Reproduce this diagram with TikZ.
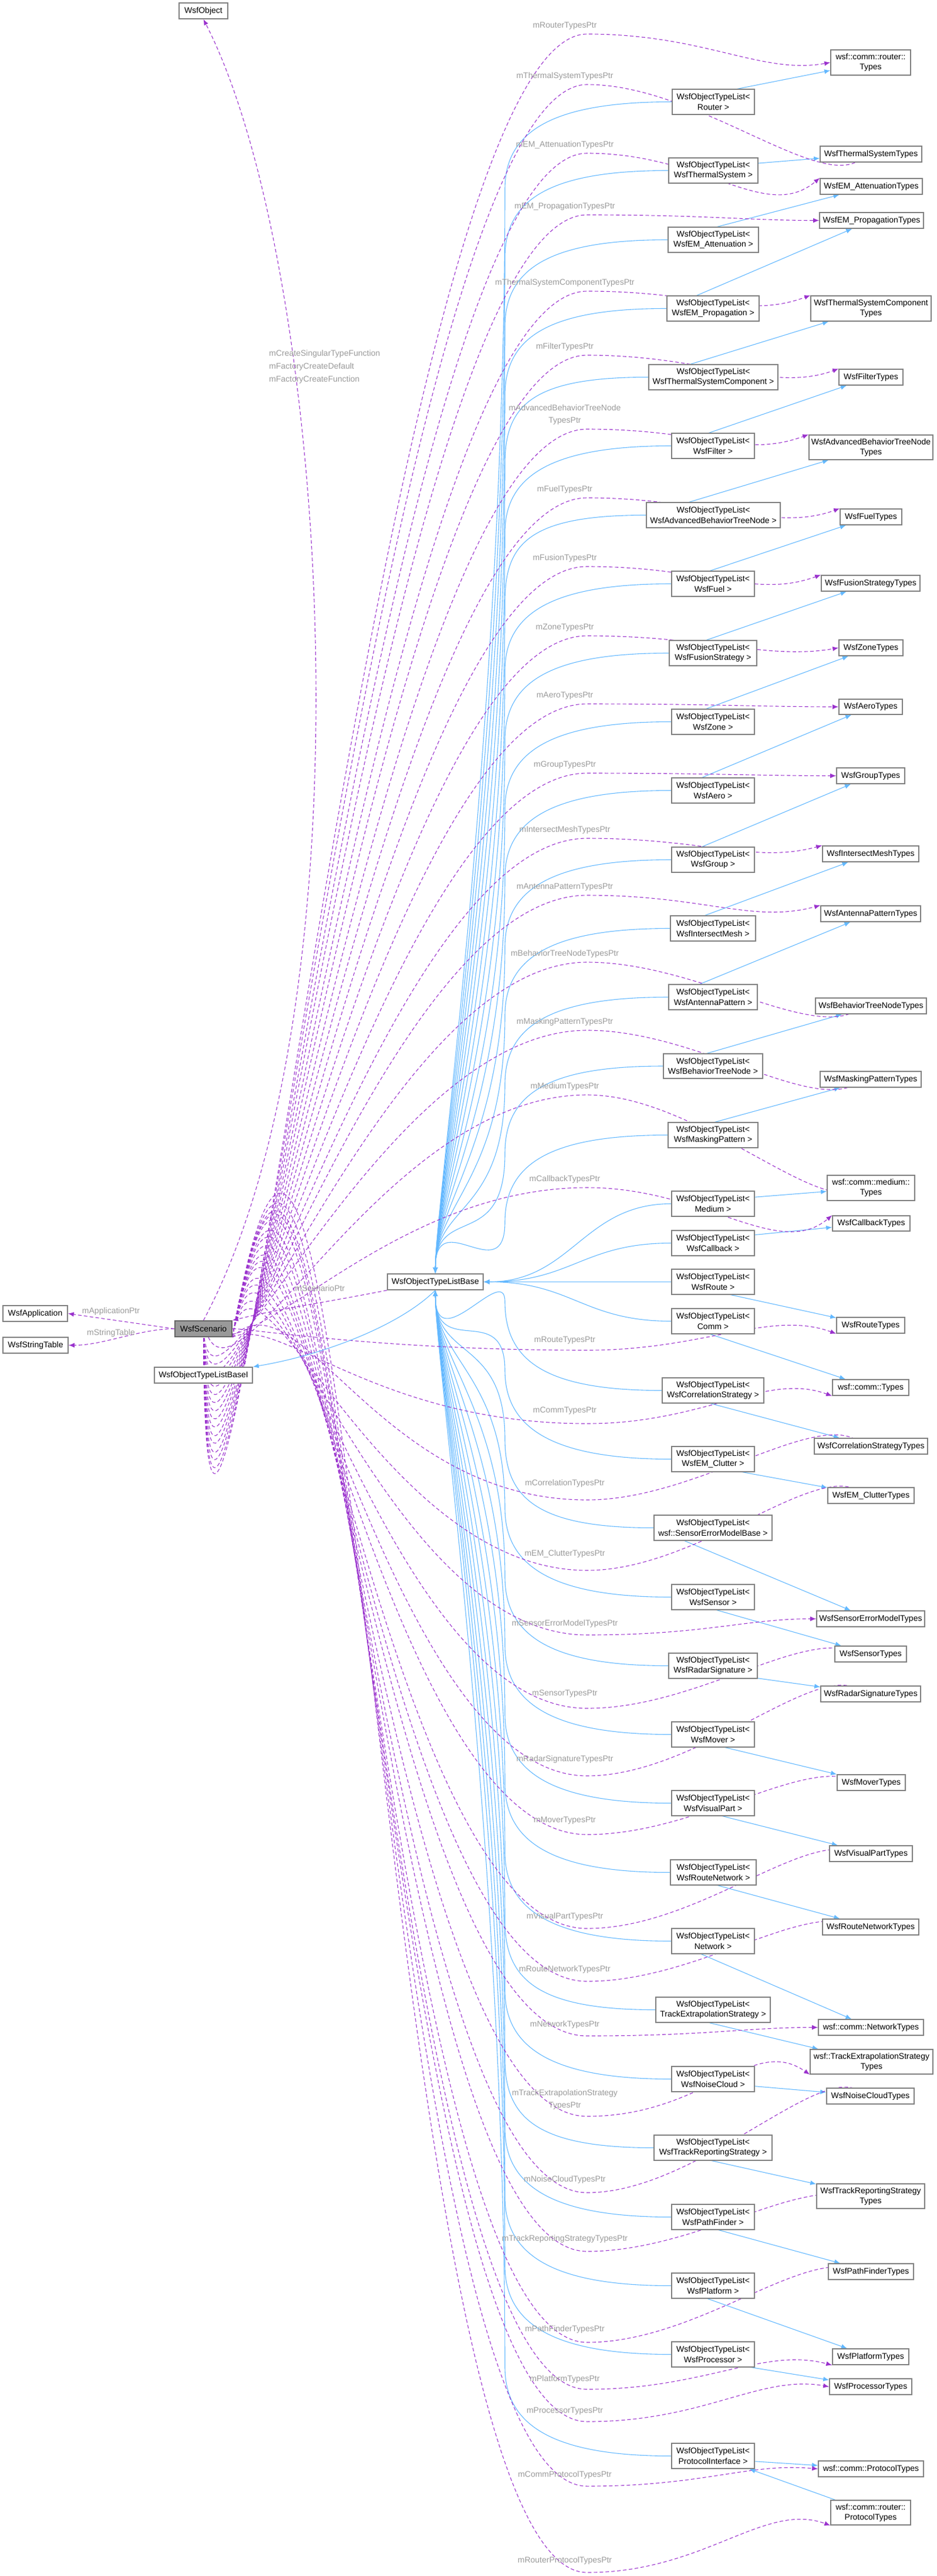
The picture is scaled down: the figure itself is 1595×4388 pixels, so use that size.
\documentclass[tikz,border=0pt]{standalone}
\usepackage{fontspec}
\setmainfont{Liberation Sans}
\usetikzlibrary{arrows.meta,backgrounds}
\definecolor{dpurple}{HTML}{9A32CD}
\definecolor{dblue}{HTML}{63B8FF}
\definecolor{dlab}{HTML}{9A9A9A}
\definecolor{dbord}{HTML}{808080}
\tikzset{
 box/.style={draw=dbord,line width=0.8pt,fill=white,inner sep=0pt,align=center,font=\fontsize{7}{8.6}\selectfont},
 cur/.style={box,fill=black!40,draw=black!60},
 lbl/.style={text=dlab,inner sep=0pt,align=center,font=\fontsize{7}{10.5}\selectfont},
 dep/.style={draw=dpurple,line width=0.55pt,dash pattern=on 3pt off 2pt,-{Latex[length=5pt,width=4pt]}},
 inh/.style={draw=dblue,line width=0.55pt,-{Latex[length=5pt,width=4pt]}},
}
\newcommand\mybox[7][box]{\node[#1,minimum width={(#5-#3)*0.5pt},minimum height={(#6-#4)*0.5pt}] (#2) at ({(#3+#5)/2},{(#4+#6)/2}) {#7};}
\newcommand\lst[8]{%
 \node[box,minimum width={(#4-#2)*0.5pt},minimum height={(#5-#3)*0.5pt}] (#1) at ({(#2+#4)/2},{(#3+#5)/2}) {WsfObjectTypeList<\\#6 >};
 \begin{pgfonlayer}{background}
 \draw[inh] (#1.west) -- (#7);
 \if u#8 \draw[inh] (#1.west) .. controls +(-200,0) and +(0,-100) .. ({860},{#3+170}) .. controls +(0,{(2170-#3)*0.45}) and +(0,-120) .. (base.north);\fi
 \if d#8 \draw[inh] (#1.west) .. controls +(-200,0) and +(0,100) .. ({860},{#3-130}) .. controls +(0,{(2197-#3)*0.45}) and +(0,120) .. (base.south);\fi
 \if s#8 \draw[inh] (#1.west) .. controls +(-150,0) and +(150,0) .. (base.east);\fi
 \end{pgfonlayer}
}
\newcommand\dep[9]{%
 \node[lbl] (#1) at (962,#2) {#3};
 \coordinate (#1w) at (1000,#4);
 \begin{pgfonlayer}{background}
 \draw[dep] (scen.#6) .. controls +(#7:{abs(#4-2262)*0.55}) and +(-360,0) .. (#1w) .. controls +(200,0) and +(#9:120) .. (#5.#8);
 \end{pgfonlayer}
}
\begin{document}
\begin{tikzpicture}[x=0.5pt,y=-0.5pt]
\useasboundingbox (0,0) rectangle (1595,4388);
% left nodes
\mybox{obj}{305}{5}{388}{32}{WsfObject}
\mybox[cur]{scen}{298}{2250}{395}{2277}{WsfScenario}
\mybox{app}{5}{2224}{115}{2251}{WsfApplication}
\mybox{strt}{5}{2278}{116}{2305}{WsfStringTable}
\mybox{basei}{263}{2329}{430}{2356}{WsfObjectTypeListBaseI}
\mybox{base}{660}{2170}{823}{2197}{WsfObjectTypeListBase}
% right types nodes
\mybox{tRouter}{1415}{85}{1551}{128}{wsf::comm::router::\\Types}
\mybox{tThermal}{1397}{249}{1570}{276}{WsfThermalSystemTypes}
\mybox{tEMAtt}{1397}{304}{1571}{331}{WsfEM\_AttenuationTypes}
\mybox{tEMProp}{1396}{362}{1573}{389}{WsfEM\_PropagationTypes}
\mybox{tTSC}{1381}{504}{1586}{547}{WsfThermalSystemComponent\\Types}
\mybox{tFilter}{1429}{629}{1538}{656}{WsfFilterTypes}
\mybox{tABTN}{1378}{741}{1589}{783}{WsfAdvancedBehaviorTreeNode\\Types}
\mybox{tFuel}{1431}{867}{1536}{894}{WsfFuelTypes}
\mybox{tFusion}{1399}{980}{1567}{1007}{WsfFusionStrategyTypes}
\mybox{tZone}{1429}{1090}{1538}{1117}{WsfZoneTypes}
\mybox{tAero}{1429}{1191}{1537}{1217}{WsfAeroTypes}
\mybox{tGroup}{1425}{1308}{1541}{1335}{WsfGroupTypes}
\mybox{tIM}{1401}{1441}{1565}{1468}{WsfIntersectMeshTypes}
\mybox{tAP}{1398}{1543}{1568}{1570}{WsfAntennaPatternTypes}
\mybox{tBTN}{1389}{1700}{1578}{1727}{WsfBehaviorTreeNodeTypes}
\mybox{tMP}{1397}{1825}{1569}{1852}{WsfMaskingPatternTypes}
\mybox{tMedium}{1409}{2002}{1558}{2045}{wsf::comm::medium::\\Types}
\mybox{tCallback}{1418}{2071}{1550}{2097}{WsfCallbackTypes}
\mybox{tRoute}{1425}{2244}{1541}{2271}{WsfRouteTypes}
\mybox{tComm}{1418}{2350}{1548}{2377}{wsf::comm::Types}
\mybox{tCorr}{1387}{2450}{1580}{2477}{WsfCorrelationStrategyTypes}
\mybox{tEMClut}{1410}{2534}{1557}{2561}{WsfEM\_ClutterTypes}
\mybox{tSEM}{1391}{2744}{1575}{2771}{WsfSensorErrorModelTypes}
\mybox{tSensor}{1422}{2804}{1544}{2831}{WsfSensorTypes}
\mybox{tRadar}{1398}{2872}{1568}{2899}{WsfRadarSignatureTypes}
\mybox{tMover}{1426}{3023}{1542}{3050}{WsfMoverTypes}
\mybox{tVP}{1413}{3144}{1554}{3171}{WsfVisualPartTypes}
\mybox{tRN}{1401}{3269}{1565}{3296}{WsfRouteNetworkTypes}
\mybox{tNet}{1394}{3440}{1573}{3467}{wsf::comm::NetworkTypes}
\mybox{tTES}{1380}{3491}{1589}{3533}{wsf::TrackExtrapolationStrategy\\Types}
\mybox{tNC}{1408}{3557}{1557}{3584}{WsfNoiseCloudTypes}
\mybox{tTRS}{1391}{3720}{1575}{3762}{WsfTrackReportingStrategy\\Types}
\mybox{tPF}{1411}{3856}{1556}{3883}{WsfPathFinderTypes}
\mybox{tPlat}{1418}{4001}{1548}{4028}{WsfPlatformTypes}
\mybox{tProc}{1413}{4052}{1553}{4079}{WsfProcessorTypes}
\mybox{tProt}{1394}{4192}{1573}{4219}{wsf::comm::ProtocolTypes}
\mybox{tRProt}{1415}{4259}{1551}{4301}{wsf::comm::router::\\ProtocolTypes}
% list nodes
\lst{lRouter}{1145}{152}{1285}{195}{Router}{tRouter}{u}
\lst{lThermal}{1139}{269}{1291}{312}{WsfThermalSystem}{tThermal}{u}
\lst{lEMAtt}{1138}{387}{1292}{430}{WsfEM\_Attenuation}{tEMAtt}{u}
\lst{lEMProp}{1136}{504}{1293}{547}{WsfEM\_Propagation}{tEMProp}{u}
\lst{lTSC}{1105}{621}{1325}{664}{WsfThermalSystemComponent}{tTSC}{u}
\lst{lFilter}{1144}{738}{1285}{781}{WsfFilter}{tFilter}{u}
\lst{lABTN}{1101}{856}{1329}{899}{WsfAdvancedBehaviorTreeNode}{tABTN}{u}
\lst{lFuel}{1144}{973}{1285}{1016}{WsfFuel}{tFuel}{u}
\lst{lFusion}{1140}{1091}{1289}{1134}{WsfFusionStrategy}{tFusion}{u}
\lst{lZone}{1144}{1208}{1285}{1251}{WsfZone}{tZone}{u}
\lst{lAero}{1144}{1325}{1285}{1368}{WsfAero}{tAero}{u}
\lst{lGroup}{1144}{1443}{1285}{1486}{WsfGroup}{tGroup}{u}
\lst{lIM}{1142}{1560}{1287}{1603}{WsfIntersectMesh}{tIM}{u}
\lst{lAP}{1139}{1677}{1290}{1720}{WsfAntennaPattern}{tAP}{u}
\lst{lBTN}{1130}{1795}{1299}{1837}{WsfBehaviorTreeNode}{tBTN}{u}
\lst{lMP}{1138}{1912}{1291}{1955}{WsfMaskingPattern}{tMP}{u}
\lst{lMedium}{1144}{2029}{1285}{2072}{Medium}{tMedium}{s}
\lst{lCallback}{1144}{2096}{1285}{2139}{WsfCallback}{tCallback}{s}
\lst{lRoute}{1144}{2162}{1285}{2205}{WsfRoute}{tRoute}{s}
\lst{lComm}{1144}{2229}{1285}{2272}{Comm}{tComm}{s}
\lst{lCorr}{1128}{2347}{1301}{2390}{WsfCorrelationStrategy}{tCorr}{d}
\lst{lEMClut}{1144}{2464}{1285}{2507}{WsfEM\_Clutter}{tEMClut}{d}
\lst{lSEM}{1114}{2581}{1315}{2624}{wsf::SensorErrorModelBase}{tSEM}{d}
\lst{lSensor}{1144}{2699}{1285}{2742}{WsfSensor}{tSensor}{d}
\lst{lRadar}{1139}{2816}{1290}{2859}{WsfRadarSignature}{tRadar}{d}
\lst{lMover}{1144}{2933}{1285}{2976}{WsfMover}{tMover}{d}
\lst{lVP}{1144}{3050}{1285}{3093}{WsfVisualPart}{tVP}{d}
\lst{lRN}{1142}{3168}{1288}{3211}{WsfRouteNetwork}{tRN}{d}
\lst{lNet}{1144}{3285}{1285}{3328}{Network}{tNet}{d}
\lst{lTES}{1117}{3402}{1312}{3445}{TrackExtrapolationStrategy}{tTES}{d}
\lst{lNC}{1144}{3520}{1285}{3563}{WsfNoiseCloud}{tNC}{d}
\lst{lTRS}{1114}{3637}{1315}{3680}{WsfTrackReportingStrategy}{tTRS}{d}
\lst{lPF}{1144}{3755}{1285}{3798}{WsfPathFinder}{tPF}{d}
\lst{lPlat}{1144}{3872}{1285}{3915}{WsfPlatform}{tPlat}{d}
\lst{lProc}{1144}{3989}{1285}{4032}{WsfProcessor}{tProc}{d}
\lst{lProt}{1144}{4162}{1285}{4205}{ProtocolInterface}{tProt}{d}
% dependency edges
\dep{eRouter}{44}{mRouterTypesPtr}{58}{tRouter}{north}{90}{west}{170}
\dep{eThermal}{130}{mThermalSystemTypesPtr}{144}{tThermal}{north}{90}{north}{120}
\dep{eEMAtt}{247}{mEM\_AttenuationTypesPtr}{261}{tEMAtt}{north}{90}{north west}{140}
\dep{eEMProp}{352}{mEM\_PropagationTypesPtr}{366}{tEMProp}{north}{90}{west}{180}
\dep{eTSC}{482}{mThermalSystemComponentTypesPtr}{496}{tTSC}{north}{90}{north west}{160}
\dep{eFilter}{591}{mFilterTypesPtr}{605}{tFilter}{north}{90}{north west}{160}
\dep{eABTN}{706}{mAdvancedBehaviorTreeNode\\TypesPtr}{731}{tABTN}{north}{90}{north west}{160}
\dep{eFuel}{834}{mFuelTypesPtr}{848}{tFuel}{north}{90}{north west}{160}
\dep{eFusion}{951}{mFusionTypesPtr}{965}{tFusion}{north}{90}{north west}{160}
\dep{eZone}{1069}{mZoneTypesPtr}{1083}{tZone}{north}{90}{west}{170}
\dep{eAero}{1185}{mAeroTypesPtr}{1199}{tAero}{north}{90}{west}{180}
\dep{eGroup}{1303}{mGroupTypesPtr}{1317}{tGroup}{north}{90}{west}{180}
\dep{eIM}{1414}{mIntersectMeshTypesPtr}{1428}{tIM}{north}{90}{north west}{165}
\dep{eAP}{1511}{mAntennaPatternTypesPtr}{1525}{tAP}{north}{90}{north west}{165}
\dep{eBTN}{1625}{mBehaviorTreeNodeTypesPtr}{1639}{tBTN}{north}{90}{north}{130}
\dep{eMP}{1741}{mMaskingPatternTypesPtr}{1755}{tMP}{north}{90}{north}{130}
\dep{eMedium}{1851}{mMediumTypesPtr}{1865}{tMedium}{north}{80}{north}{120}
\dep{eCallback}{2009}{mCallbackTypesPtr}{2023}{tCallback}{north}{65}{north west}{140}
\dep{eRoute}{2283}{mRouteTypesPtr}{2300}{tRoute}{east}{-5}{south west}{-160}
\dep{eComm}{2403}{mCommTypesPtr}{2425}{tComm}{south east}{-25}{south west}{-160}
\dep{eCorr}{2527}{mCorrelationTypesPtr}{2555}{tCorr}{south east}{-45}{south}{-125}
\dep{eEMClut}{2647}{mEM\_ClutterTypesPtr}{2675}{tEMClut}{south east}{-80}{south}{-125}
\dep{eSEM}{2766}{mSensorErrorModelTypesPtr}{2785}{tSEM}{south east}{-80}{west}{180}
\dep{eSensor}{2885}{mSensorTypesPtr}{2910}{tSensor}{south east}{-80}{south}{-140}
\dep{eRadar}{2997}{mRadarSignatureTypesPtr}{3025}{tRadar}{south east}{-80}{south}{-125}
\dep{eMover}{3101}{mMoverTypesPtr}{3125}{tMover}{south east}{-80}{south}{-140}
\dep{eVP}{3265}{mVisualPartTypesPtr}{3285}{tVP}{south east}{-80}{south}{-140}
\dep{eRN}{3355}{mRouteNetworkTypesPtr}{3375}{tRN}{south east}{-80}{south}{-140}
\dep{eNet}{3449}{mNetworkTypesPtr}{3468}{tNet}{south east}{-80}{west}{180}
\dep{eTES}{3576}{mTrackExtrapolationStrategy\\TypesPtr}{3605}{tTES}{south east}{-80}{south west}{-145}
\dep{eNC}{3713}{mNoiseCloudTypesPtr}{3735}{tNC}{south east}{-80}{south}{-120}
\dep{eTRS}{3814}{mTrackReportingStrategyTypesPtr}{3835}{tTRS}{south east}{-80}{south}{-140}
\dep{ePF}{3968}{mPathFinderTypesPtr}{3990}{tPF}{south east}{-80}{south}{-140}
\dep{ePlat}{4053}{mPlatformTypesPtr}{4070}{tPlat}{south east}{-80}{south west}{-165}
\dep{eProc}{4107}{mProcessorTypesPtr}{4125}{tProc}{south east}{-80}{west}{190}
\dep{eProt}{4216}{mCommProtocolTypesPtr}{4235}{tProt}{south east}{-80}{west}{185}
\dep{eRProt}{4362}{mRouterProtocolTypesPtr}{4382}{tRProt}{south east}{-80}{south west}{-160}
% local edges
\node[lbl] (lApp) at (189,2234) {mApplicationPtr};
\node[lbl] (lStr) at (189,2271) {mStringTable};
\node[lbl] (lScen) at (545,2194) {mScenarioPtr};
\node[lbl,anchor=west] (lCS) at (458,603) {mCreateSingularTypeFunction};
\node[lbl,anchor=west] (lFD) at (458,625) {mFactoryCreateDefault};
\node[lbl,anchor=west] (lFC) at (458,647) {mFactoryCreateFunction};
\begin{pgfonlayer}{background}
\draw[inh] (tRProt) -- (lProt);
\draw[inh] (base.south) .. controls +(-60,60) and +(120,-20) .. (basei.north east);
\draw[dep] (scen.west) -- (app.east);
\draw[dep] (scen.west) .. controls +(-60,0) and +(60,0) .. (strt.east);
\draw[dep] (base.south west) .. controls +(-100,20) and +(80,-20) .. (scen.north east);
\draw[dep] (scen.north) .. controls (640,1700) and (560,450) .. (obj.south);
\end{pgfonlayer}
\end{tikzpicture}
\end{document}
